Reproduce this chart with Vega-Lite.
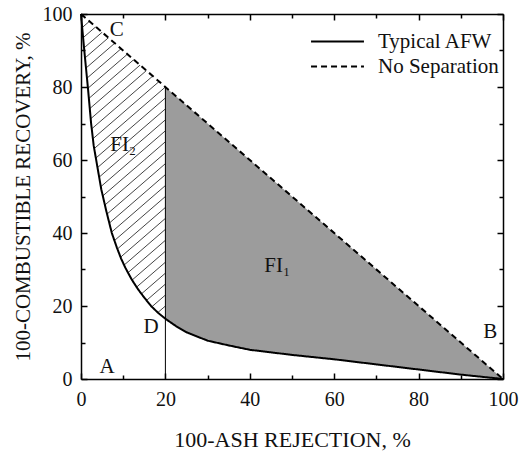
{
  "$schema": "https://vega.github.io/schema/vega-lite/v6.json",
  "width": 422,
  "height": 365,
  "autosize": "none",
  "padding": {"left": 81, "top": 14, "right": 17, "bottom": 78},
  "config": {
    "view": {"stroke": null},
    "font": "Liberation Serif",
    "axis": {"labelFont": "Liberation Serif", "titleFont": "Liberation Serif"},
    "legend": {"labelFont": "Liberation Serif", "titleFont": "Liberation Serif"},
    "text": {"font": "Liberation Serif"}
  },
  "datasets": {
    "lines": [
      {"series": "Typical AFW", "x": 0, "y": 100},
      {"series": "Typical AFW", "x": 0.3, "y": 96},
      {"series": "Typical AFW", "x": 0.7, "y": 91},
      {"series": "Typical AFW", "x": 1.2, "y": 85},
      {"series": "Typical AFW", "x": 1.7, "y": 79},
      {"series": "Typical AFW", "x": 2.4, "y": 70},
      {"series": "Typical AFW", "x": 3.0, "y": 64},
      {"series": "Typical AFW", "x": 3.6, "y": 60},
      {"series": "Typical AFW", "x": 4.8, "y": 52},
      {"series": "Typical AFW", "x": 6, "y": 46},
      {"series": "Typical AFW", "x": 7.3, "y": 40},
      {"series": "Typical AFW", "x": 8.5, "y": 36},
      {"series": "Typical AFW", "x": 9.5, "y": 33},
      {"series": "Typical AFW", "x": 10.5, "y": 30.5},
      {"series": "Typical AFW", "x": 12, "y": 27.3},
      {"series": "Typical AFW", "x": 13.5, "y": 24.6},
      {"series": "Typical AFW", "x": 15, "y": 22.3},
      {"series": "Typical AFW", "x": 16.6, "y": 20},
      {"series": "Typical AFW", "x": 18.2, "y": 18.2},
      {"series": "Typical AFW", "x": 20, "y": 16.5},
      {"series": "Typical AFW", "x": 22.5, "y": 14.5},
      {"series": "Typical AFW", "x": 25, "y": 12.8},
      {"series": "Typical AFW", "x": 30, "y": 10.5},
      {"series": "Typical AFW", "x": 35, "y": 9.2},
      {"series": "Typical AFW", "x": 40, "y": 8},
      {"series": "Typical AFW", "x": 45, "y": 7.3},
      {"series": "Typical AFW", "x": 50, "y": 6.6},
      {"series": "Typical AFW", "x": 60, "y": 5.4},
      {"series": "Typical AFW", "x": 70, "y": 4},
      {"series": "Typical AFW", "x": 80, "y": 2.6},
      {"series": "Typical AFW", "x": 90, "y": 1.2},
      {"series": "Typical AFW", "x": 95, "y": 0.6},
      {"series": "Typical AFW", "x": 100, "y": 0},
      {"series": "No Separation", "x": 0, "y": 100},
      {"series": "No Separation", "x": 100, "y": 0}
    ],
    "gray": [
      {"x": 20, "lo": 16.5, "hi": 80},
      {"x": 22.5, "lo": 14.5, "hi": 77.5},
      {"x": 25, "lo": 12.8, "hi": 75},
      {"x": 30, "lo": 10.5, "hi": 70},
      {"x": 35, "lo": 9.2, "hi": 65},
      {"x": 40, "lo": 8, "hi": 60},
      {"x": 45, "lo": 7.3, "hi": 55},
      {"x": 50, "lo": 6.6, "hi": 50},
      {"x": 60, "lo": 5.4, "hi": 40},
      {"x": 70, "lo": 4, "hi": 30},
      {"x": 80, "lo": 2.6, "hi": 20},
      {"x": 90, "lo": 1.2, "hi": 10},
      {"x": 95, "lo": 0.6, "hi": 5},
      {"x": 100, "lo": 0, "hi": 0}
    ],
    "cap": [
      {"x": 0, "lo": 100, "hi": 100},
      {"x": 25, "lo": 75, "hi": 100}
    ],
    "under": [
      {"x": 0, "y": 100},
      {"x": 0.3, "y": 96},
      {"x": 0.7, "y": 91},
      {"x": 1.2, "y": 85},
      {"x": 1.7, "y": 79},
      {"x": 2.4, "y": 70},
      {"x": 3.0, "y": 64},
      {"x": 3.6, "y": 60},
      {"x": 4.8, "y": 52},
      {"x": 6, "y": 46},
      {"x": 7.3, "y": 40},
      {"x": 8.5, "y": 36},
      {"x": 9.5, "y": 33},
      {"x": 10.5, "y": 30.5},
      {"x": 12, "y": 27.3},
      {"x": 13.5, "y": 24.6},
      {"x": 15, "y": 22.3},
      {"x": 16.6, "y": 20},
      {"x": 18.2, "y": 18.2},
      {"x": 20, "y": 16.5},
      {"x": 22.5, "y": 14.5}
    ],
    "hatch": [
      {"hx": 0, "hy": -3, "hx2": 20, "hy2": 17},
      {"hx": 0, "hy": 0, "hx2": 20, "hy2": 20},
      {"hx": 0, "hy": 3, "hx2": 20, "hy2": 23},
      {"hx": 0, "hy": 6, "hx2": 20, "hy2": 26},
      {"hx": 0, "hy": 9, "hx2": 20, "hy2": 29},
      {"hx": 0, "hy": 12, "hx2": 20, "hy2": 32},
      {"hx": 0, "hy": 15, "hx2": 20, "hy2": 35},
      {"hx": 0, "hy": 18, "hx2": 20, "hy2": 38},
      {"hx": 0, "hy": 21, "hx2": 20, "hy2": 41},
      {"hx": 0, "hy": 24, "hx2": 20, "hy2": 44},
      {"hx": 0, "hy": 27, "hx2": 20, "hy2": 47},
      {"hx": 0, "hy": 30, "hx2": 20, "hy2": 50},
      {"hx": 0, "hy": 33, "hx2": 20, "hy2": 53},
      {"hx": 0, "hy": 36, "hx2": 20, "hy2": 56},
      {"hx": 0, "hy": 39, "hx2": 20, "hy2": 59},
      {"hx": 0, "hy": 42, "hx2": 20, "hy2": 62},
      {"hx": 0, "hy": 45, "hx2": 20, "hy2": 65},
      {"hx": 0, "hy": 48, "hx2": 20, "hy2": 68},
      {"hx": 0, "hy": 51, "hx2": 20, "hy2": 71},
      {"hx": 0, "hy": 54, "hx2": 20, "hy2": 74},
      {"hx": 0, "hy": 57, "hx2": 20, "hy2": 77},
      {"hx": 0, "hy": 60, "hx2": 20, "hy2": 80},
      {"hx": 0, "hy": 63, "hx2": 20, "hy2": 83},
      {"hx": 0, "hy": 66, "hx2": 20, "hy2": 86},
      {"hx": 0, "hy": 69, "hx2": 20, "hy2": 89},
      {"hx": 0, "hy": 72, "hx2": 20, "hy2": 92},
      {"hx": 0, "hy": 75, "hx2": 20, "hy2": 95},
      {"hx": 0, "hy": 78, "hx2": 20, "hy2": 98},
      {"hx": 0, "hy": 81, "hx2": 20, "hy2": 101},
      {"hx": 0, "hy": 84, "hx2": 20, "hy2": 104},
      {"hx": 0, "hy": 87, "hx2": 20, "hy2": 107},
      {"hx": 0, "hy": 90, "hx2": 20, "hy2": 110},
      {"hx": 0, "hy": 93, "hx2": 20, "hy2": 113},
      {"hx": 0, "hy": 96, "hx2": 20, "hy2": 116},
      {"hx": 0, "hy": 99, "hx2": 20, "hy2": 119}
    ],
    "labels": [
      {"t": "C", "x": 8.5, "y": 95.6},
      {"t": "FI₂", "x": 10, "y": 64},
      {"t": "FI₁", "x": 46.5, "y": 31},
      {"t": "D", "x": 16.6, "y": 14.2},
      {"t": "A", "x": 6.2, "y": 3.3},
      {"t": "B", "x": 97, "y": 12.9}
    ],
    "vline": [{"x": 20, "y": 0, "y2": 80}]
  },
  "resolve": {"axis": {"x": "independent", "y": "independent"}},
  "layer": [
    {
      "data": {"name": "hatch"},
      "mark": {"type": "rule", "clip": true, "color": "#444", "strokeWidth": 1},
      "encoding": {
        "x": {"field": "hx", "type": "quantitative", "scale": {"domain": [0, 100], "nice": false}, "axis": null},
        "y": {"field": "hy", "type": "quantitative", "scale": {"domain": [0, 100], "nice": false}, "axis": null},
        "x2": {"field": "hx2"},
        "y2": {"field": "hy2"}
      }
    },
    {
      "data": {"name": "under"},
      "mark": {"type": "area", "color": "white", "clip": true},
      "encoding": {
        "x": {"field": "x", "type": "quantitative", "scale": {"domain": [0, 100], "nice": false}, "axis": null},
        "y": {"field": "y", "type": "quantitative", "scale": {"domain": [0, 100], "nice": false}, "axis": null, "stack": null}
      }
    },
    {
      "data": {"name": "cap"},
      "mark": {"type": "area", "color": "white", "clip": true},
      "encoding": {
        "x": {"field": "x", "type": "quantitative", "scale": {"domain": [0, 100], "nice": false}, "axis": null},
        "y": {"field": "lo", "type": "quantitative", "scale": {"domain": [0, 100], "nice": false}, "axis": null},
        "y2": {"field": "hi"}
      }
    },
    {
      "data": {"name": "gray"},
      "mark": {"type": "area", "color": "#9c9c9c", "opacity": 1},
      "encoding": {
        "x": {"field": "x", "type": "quantitative", "scale": {"domain": [0, 100], "nice": false},
          "axis": {"orient": "bottom", "values": [0, 20, 40, 60, 80, 100], "tickSize": -6, "tickWidth": 1.5, "tickColor": "black",
            "domainColor": "black", "domainWidth": 1.5, "grid": false, "zindex": 1,
            "labelFontSize": 20, "labelColor": "#111", "labelPadding": 16, "labelFlush": false,
            "title": "100-ASH REJECTION, %", "titleFontSize": 22, "titleFontWeight": "normal", "titleColor": "#111", "titlePadding": 20}},
        "y": {"field": "lo", "type": "quantitative", "scale": {"domain": [0, 100], "nice": false},
          "axis": {"orient": "left", "values": [0, 20, 40, 60, 80, 100], "tickSize": -6, "tickWidth": 1.5, "tickColor": "black",
            "domainColor": "black", "domainWidth": 1.5, "grid": false, "zindex": 1,
            "labelFontSize": 20, "labelColor": "#111", "labelPadding": 15, "labelFlush": false,
            "title": "100-COMBUSTIBLE RECOVERY, %", "titleFontSize": 21, "titleFontWeight": "normal", "titleColor": "#111", "titlePadding": 9}},
        "y2": {"field": "hi"}
      }
    },
    {
      "data": {"name": "vline"},
      "mark": {"type": "rule", "color": "black", "strokeWidth": 1},
      "encoding": {
        "x": {"field": "x", "type": "quantitative", "scale": {"domain": [0, 100], "nice": false},
          "axis": {"orient": "top", "values": [10, 30, 50, 70, 90], "tickSize": -4, "tickWidth": 1.5, "tickColor": "black",
            "domain": false, "labels": false, "grid": false, "zindex": 1, "title": null}},
        "y": {"field": "y", "type": "quantitative", "scale": {"domain": [0, 100], "nice": false},
          "axis": {"orient": "right", "values": [10, 30, 50, 70, 90], "tickSize": -4, "tickWidth": 1.5, "tickColor": "black",
            "domain": false, "labels": false, "grid": false, "zindex": 1, "title": null}},
        "y2": {"field": "y2"}
      }
    },
    {
      "data": {"name": "lines"},
      "mark": {"type": "line", "strokeWidth": 2},
      "encoding": {
        "x": {"field": "x", "type": "quantitative", "scale": {"domain": [0, 100], "nice": false},
          "axis": {"orient": "bottom", "values": [10, 30, 50, 70, 90], "tickSize": -4, "tickWidth": 1.5, "tickColor": "black",
            "domain": false, "labels": false, "grid": false, "zindex": 1, "title": null}},
        "y": {"field": "y", "type": "quantitative", "scale": {"domain": [0, 100], "nice": false},
          "axis": {"orient": "left", "values": [10, 30, 50, 70, 90], "tickSize": -4, "tickWidth": 1.5, "tickColor": "black",
            "domain": false, "labels": false, "grid": false, "zindex": 1, "title": null}},
        "color": {"field": "series", "type": "nominal",
          "scale": {"domain": ["Typical AFW", "No Separation"], "range": ["black", "black"]},
          "legend": {"orient": "none", "legendX": 229, "legendY": 17, "title": null, "symbolType": "stroke", "symbolSize": 2800,
            "symbolStrokeWidth": 2, "labelFontSize": 21, "labelColor": "#111", "labelOffset": 13,
            "clipHeight": 21, "rowPadding": 3, "padding": 0}},
        "strokeDash": {"field": "series", "type": "nominal",
          "scale": {"domain": ["Typical AFW", "No Separation"], "range": [[1, 0], [6, 4]]},
          "legend": {"orient": "none", "legendX": 229, "legendY": 17, "title": null, "symbolType": "stroke", "symbolSize": 2800,
            "symbolStrokeWidth": 2, "labelFontSize": 21, "labelColor": "#111", "labelOffset": 13,
            "clipHeight": 21, "rowPadding": 3, "padding": 0}}
      }
    },
    {
      "data": {"name": "labels"},
      "mark": {"type": "text", "fontSize": 21, "color": "#111", "align": "center", "baseline": "middle"},
      "encoding": {
        "x": {"field": "x", "type": "quantitative", "scale": {"domain": [0, 100], "nice": false},
          "axis": {"orient": "top", "values": [0, 20, 40, 60, 80, 100], "tickSize": -6, "tickWidth": 1.5, "tickColor": "black",
            "domainColor": "black", "domainWidth": 1.5, "labels": false, "grid": false, "zindex": 1, "title": null}},
        "y": {"field": "y", "type": "quantitative", "scale": {"domain": [0, 100], "nice": false},
          "axis": {"orient": "right", "values": [0, 20, 40, 60, 80, 100], "tickSize": -6, "tickWidth": 1.5, "tickColor": "black",
            "domainColor": "black", "domainWidth": 1.5, "labels": false, "grid": false, "zindex": 1, "title": null}},
        "text": {"field": "t"}
      }
    }
  ]
}
